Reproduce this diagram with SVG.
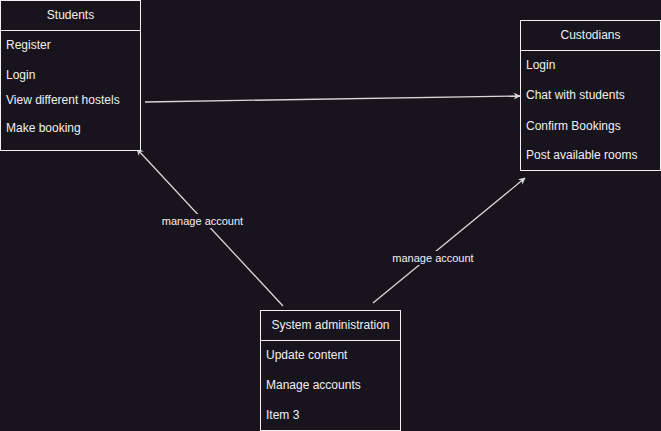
<svg xmlns="http://www.w3.org/2000/svg" width="661" height="431" viewBox="0 0 661 431">
<style>
.box{fill:#18141d;stroke:#f0f0f0;stroke-width:1}
.sep{stroke:#f0f0f0;stroke-width:1}
.t{font-family:"Liberation Sans",Arial,sans-serif;font-size:12px;fill:#f0f0f0}
.title{text-anchor:middle}
.edge{stroke:#d8d8d8;stroke-width:1.3;fill:none}
.lbl{font-family:"Liberation Sans",Arial,sans-serif;font-size:11px;fill:#f0f0f0;text-anchor:middle}
.lblbg{fill:#18141d}
</style>
<defs>
<marker id="arr" viewBox="0 0 10 10" refX="9" refY="5" markerWidth="7" markerHeight="7" markerUnits="userSpaceOnUse" orient="auto">
<path d="M0,0 L10,5 L0,10 L3,5 Z" fill="#d8d8d8"/>
</marker>
</defs>
<rect x="0" y="0" width="661" height="431" fill="#18141d"/>
<g id="connectors">
<line class="edge" x1="145" y1="102" x2="520" y2="96" marker-end="url(#arr)"/>
<line class="edge" x1="283" y1="306" x2="137" y2="149" marker-end="url(#arr)"/>
<line class="edge" x1="373" y1="303" x2="525" y2="178" marker-end="url(#arr)"/>
<rect class="lblbg" x="162" y="214" width="81" height="14"/>
<text class="lbl" x="202.5" y="225">manage account</text>
<rect class="lblbg" x="392" y="251" width="82" height="14"/>
<text class="lbl" x="433" y="262">manage account</text>
</g>
<g id="students">
<rect class="box" x="0.5" y="0.5" width="140" height="150"/>
<line class="sep" x1="0.5" y1="30.5" x2="140.5" y2="30.5"/>
<text class="t title" x="70.5" y="19">Students</text>
<text class="t" x="6" y="49">Register</text>
<text class="t" x="6" y="79">Login</text>
<text class="t" x="6" y="104">View different hostels</text>
<text class="t" x="6" y="132">Make booking</text>
</g>
<g id="custodians">
<rect class="box" x="520.5" y="20.5" width="140" height="150"/>
<line class="sep" x1="520.5" y1="50.5" x2="660.5" y2="50.5"/>
<text class="t title" x="590.5" y="39">Custodians</text>
<text class="t" x="526" y="69">Login</text>
<text class="t" x="526" y="99">Chat with students</text>
<text class="t" x="526" y="130">Confirm Bookings</text>
<text class="t" x="526" y="159">Post available rooms</text>
</g>
<g id="sysadmin">
<rect class="box" x="260.5" y="310.5" width="140" height="120"/>
<line class="sep" x1="260.5" y1="340.5" x2="400.5" y2="340.5"/>
<text class="t title" x="330.5" y="329">System administration</text>
<text class="t" x="266" y="359">Update content</text>
<text class="t" x="266" y="389">Manage accounts</text>
<text class="t" x="266" y="419">Item 3</text>
</g>
</svg>
